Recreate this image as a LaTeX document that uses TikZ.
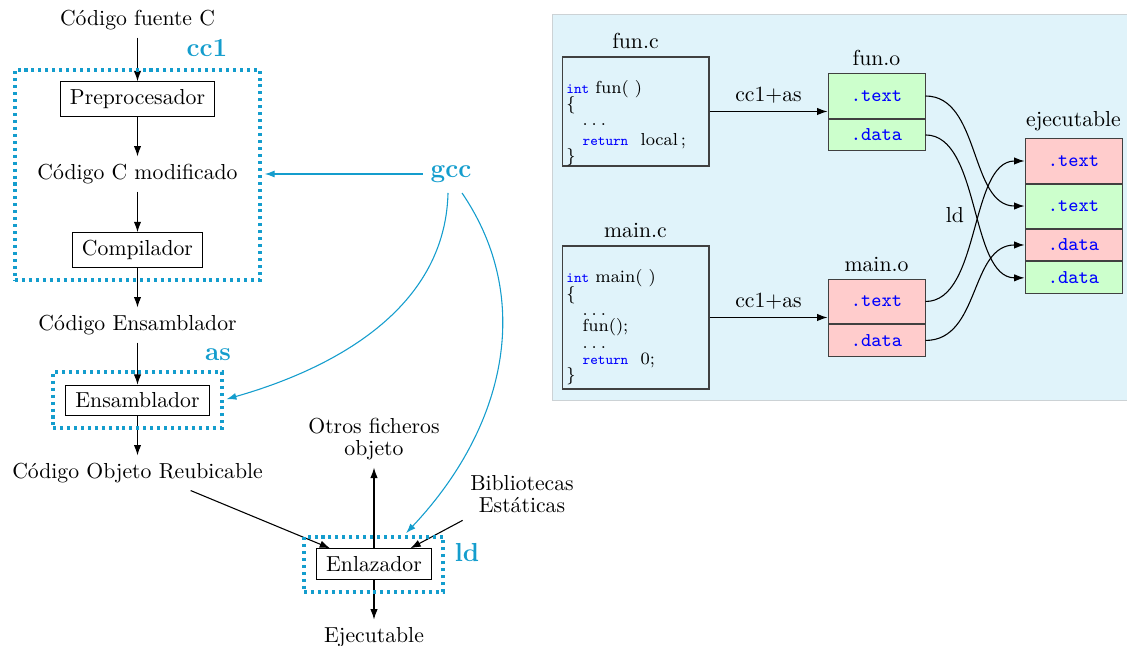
\documentclass[tikz,border=0pt]{standalone}
\usetikzlibrary{arrows.meta,fit,calc}
\definecolor{toolblue}{RGB}{20,157,205}
\definecolor{kwblue}{RGB}{0,0,255}
\definecolor{panelfill}{RGB}{224,243,250}
\definecolor{panelrule}{RGB}{204,210,213}
\definecolor{secgreen}{RGB}{204,255,204}
\definecolor{secred}{RGB}{255,204,204}
% C keywords in the code listings
\newcommand{\kw}[1]{{\color{kwblue}\fontsize{6.6}{7}\ttfamily #1}}
\newcommand{\ind}{\hspace*{7.5pt}}
\newcommand{\cdotsline}{.\hspace{1.8pt}.\hspace{1.8pt}.}
\begin{document}
\begin{tikzpicture}[x=0.4608pt, y=-0.4608pt,
  txt/.style={align=center, font=\fontsize{10}{10.2}\selectfont},
  stage/.style={draw, inner xsep=4.5pt, inner ysep=3.5pt},
  arr/.style={-{Latex[length=4.8pt,width=3.4pt]}, line width=0.5pt},
  garr/.style={toolblue, line width=0.5pt, -{Latex[length=4.5pt,width=3.2pt]}, shorten >=1.5pt},
  toolbox/.style={draw=toolblue, line width=1.4pt, dash pattern=on 1.4pt off 1.8pt, inner sep=0pt},
  toollabel/.style={text=toolblue, font=\large\bfseries},
  codebox/.style={draw=black!75, line width=0.5pt, minimum width=67.7pt, inner sep=0pt},
  code/.style={align=left, inner sep=0pt, anchor=north west,
    font={\fontsize{8}{7.5}\selectfont\lineskiplimit=-5pt}},
  sec/.style={draw=black!75, line width=0.45pt, minimum width=44.7pt, inner sep=0pt,
    font=\small\ttfamily, text=kwblue},
  tsec/.style={sec, minimum height=20.3pt},
  dsec/.style={sec, minimum height=14.7pt}]
\useasboundingbox (0,0) rectangle (1127,646);

% ---------- compilation chain ----------
\node[txt] (src) at (137.5,20) {Código fuente C};
\node[stage] (pre) at (137.5,99) {Preprocesador};
\node[txt] (cmod) at (137.5,174) {Código C modificado};
\node[stage] (comp) at (137.5,250) {Compilador};
\node[txt] (casm) at (137.5,325) {Código Ensamblador};
\node[stage] (ens) at (137.5,400.5) {Ensamblador};
\node[txt] (cobj) at (137.5,473) {Código Objeto Reubicable};
\node[stage] (enl) at (374,564) {Enlazador};
\node[txt] (otros) at (374,439) {Otros ficheros\\objeto};
\node[txt] (bib) at (522,494) {Bibliotecas\\Estáticas};
\node[txt] (exe) at (374,637) {Ejecutable};

\draw[arr] (src.south) -- (pre.north);
\draw[arr] (pre.south) -- (cmod.north);
\draw[arr] (cmod.south) -- (comp.north);
\draw[arr] (comp.south) -- (casm.north);
\draw[arr] (casm.south) -- (ens.north);
\draw[arr] (ens.south) -- (cobj.north);
\draw[arr] ($(cobj.south)!0.4!(cobj.south east)$) -- ([xshift=6.5pt]enl.north west);
\draw[arr] (bib.south west) -- ([xshift=-10pt]enl.north east);
\draw[arr] (enl.north) -- (otros.south);
\draw[arr] (enl.south) -- (exe.north);

% ---------- tools ----------
\node[toolbox, fit={(15,70) (260,280)}] (cc1box) {};
\node[toolbox, fit={(53,372) (222,428)}] (asbox) {};
\node[toolbox, fit={(304,537) (443,592)}] (ldbox) {};
\node[toollabel] (cc1) at (207,48) {cc1};
\node[toollabel] (asl) at (218,355) {as};
\node[toollabel] (ldl) at (467,553) {ld};
\node[toollabel] (gcc) at (451,174) {gcc};

\coordinate (gccA) at (448,193);
\coordinate (gccB) at (462,193);
\draw[garr] (gcc.west) -- (gcc.west -| cc1box.east);
\draw[garr] (gccA) .. controls +(-3,127) and +(88,-25) .. (asbox.east);
\draw[garr] (gccB) .. controls +(73,107) and +(101,-107) .. ([xshift=14pt]ldbox.north);

% ---------- object files and linking ----------
\draw[panelrule, fill=panelfill] (552,14) rectangle (1127,400);

\node[codebox, minimum height=50.2pt] (funC) at (635.5,111.5) {};
\node[code] (funCode) at (566,80)
  {\kw{int} fun( )\\\{\\\ind\cdotsline\\[1.5pt]\ind\kw{return} \ local\,;\\\}};
\node[anchor=south] (funCl) at (funC.north) {fun.c};

\node[codebox, minimum height=65.9pt] (mainC) at (635.5,317.5) {};
\node[code] (mainCode) at (566,269.5)
  {\kw{int} main( )\\\{\\\ind\cdotsline\\\ind fun();\\\ind\cdotsline\\\ind\kw{return} \ 0;\\\}};
\node[anchor=south] (mainCl) at (mainC.north) {main.c};

\node[tsec, fill=secgreen] (fT) at (876.5,96) {.text};
\node[dsec, fill=secgreen, anchor=north] (fD) at (fT.south) {.data};
\node[anchor=south] (funOl) at (fT.north) {fun.o};

\node[tsec, fill=secred] (mT) at (876.5,301.5) {.text};
\node[dsec, fill=secred, anchor=north] (mD) at (mT.south) {.data};
\node[anchor=south] (mainOl) at (mT.north) {main.o};

\node[tsec, fill=secred] (e1) at (1073.5,161) {.text};
\node[tsec, fill=secgreen, anchor=north] (e2) at (e1.south) {.text};
\node[dsec, fill=secred, anchor=north] (e3) at (e2.south) {.data};
\node[dsec, fill=secgreen, anchor=north] (e4) at (e3.south) {.data};
\node[anchor=south] (exeL) at (e1.north) {ejecutable};

\draw[arr] (funC.east) -- (funC.east -| fT.west) node[midway, above] (ccA) {cc1+as};
\draw[arr] (mainC.east) -- (mainC.east -| mT.west) node[midway, above] (ccB) {cc1+as};

\node (ldr) at (955,215) {ld};
\draw[arr] (fT.east) .. controls +(55,0) and +(-55,0) .. (e2.west);
\draw[arr] (fD.east) .. controls +(55,0) and +(-55,0) .. (e4.west);
\draw[arr] (mT.east) .. controls +(55,0) and +(-55,0) .. (e1.west);
\draw[arr] (mD.east) .. controls +(55,0) and +(-55,0) .. (e3.west);
\end{tikzpicture}
\end{document}
